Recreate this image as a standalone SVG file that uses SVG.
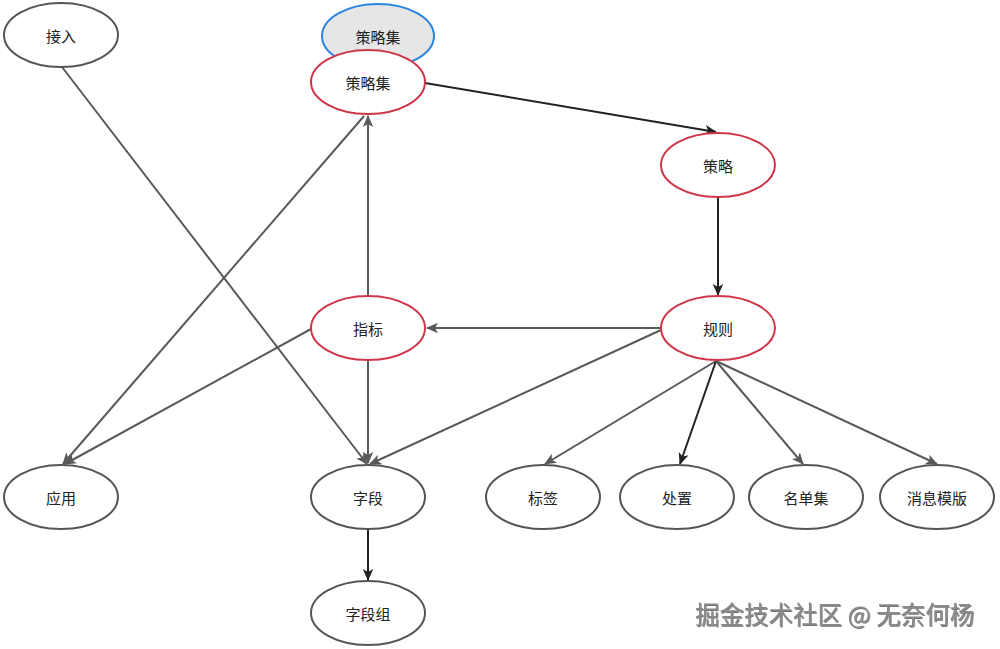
<svg xmlns="http://www.w3.org/2000/svg" width="1000" height="649" viewBox="0 0 1000 649">
<style>
.n ellipse{fill:#fff;stroke:#555;stroke-width:2}
.r ellipse{stroke:#d0364a}
.t{font-family:"Noto Sans CJK SC","Noto Sans",sans-serif;font-size:15px;fill:#222;text-anchor:middle;dominant-baseline:central}
.e{fill:none;stroke:#595959;stroke-width:2;marker-end:url(#ag)}
.d{stroke:#222;marker-end:url(#ad)}
.wm{font-family:"Noto Sans CJK SC",sans-serif;font-size:24.5px;fill:#8a8a8a;filter:url(#sh)}
</style>
<defs>
<filter id="sh" x="-5%" y="-30%" width="110%" height="160%">
<feDropShadow dx="0.8" dy="1" stdDeviation="0.6" flood-color="#333" flood-opacity="0.7"/>
</filter>
<marker id="ag" markerWidth="13" markerHeight="12" refX="11" refY="6" orient="auto" markerUnits="userSpaceOnUse" viewBox="0 0 13 12">
<path d="M0,0.8 L12,6 L0,11.2 L3,6 Z" fill="#595959"/>
</marker>
<marker id="ad" markerWidth="13" markerHeight="12" refX="11" refY="6" orient="auto" markerUnits="userSpaceOnUse" viewBox="0 0 13 12">
<path d="M0,0.8 L12,6 L0,11.2 L3,6 Z" fill="#222"/>
</marker>
</defs>
<rect width="1000" height="649" fill="#fff"/>
<g id="connectors">
<path class="e" d="M62,67 L367,464"/>
<path class="e d" d="M425,83 L716,132"/>
<path class="e d" d="M718,197 L718,295"/>
<path class="e" d="M368,296 L368,116"/>
<path class="e" d="M364,116 L63,464"/>
<path class="e" d="M311,329 L65,464"/>
<path class="e" d="M661,328 L427,328"/>
<path class="e" d="M661,330 L370,464"/>
<path class="e" d="M368,360 L368,463"/>
<path class="e d" d="M368,529 L368,580"/>
<path class="e" d="M716,361 L545,464"/>
<path class="e d" d="M716,361 L680,464"/>
<path class="e" d="M716,361 L803,464"/>
<path class="e" d="M716,361 L937,464"/>
</g>
<g id="n-jieru" class="n"><ellipse cx="61" cy="35" rx="57" ry="32"/><text class="t" x="61" y="35">接入</text></g>
<g id="n-celueji-sel" class="n"><ellipse cx="378" cy="36" rx="56" ry="32" style="fill:#e6e6e6;stroke:#2a85e0"/><text class="t" x="378" y="36">策略集</text></g>
<g id="n-celueji" class="n r"><ellipse cx="368" cy="82" rx="57" ry="32"/><text class="t" x="368" y="82">策略集</text></g>
<g id="n-celue" class="n r"><ellipse cx="718" cy="165" rx="57" ry="32"/><text class="t" x="718" y="165">策略</text></g>
<g id="n-guize" class="n r"><ellipse cx="718" cy="328" rx="57" ry="32"/><text class="t" x="718" y="328">规则</text></g>
<g id="n-zhibiao" class="n r"><ellipse cx="368" cy="328" rx="57" ry="32"/><text class="t" x="368" y="328">指标</text></g>
<g id="n-yingyong" class="n"><ellipse cx="61" cy="497" rx="57" ry="32"/><text class="t" x="61" y="497">应用</text></g>
<g id="n-ziduan" class="n"><ellipse cx="368" cy="497" rx="57" ry="32"/><text class="t" x="368" y="497">字段</text></g>
<g id="n-ziduanzu" class="n"><ellipse cx="368" cy="613" rx="57" ry="32"/><text class="t" x="368" y="613">字段组</text></g>
<g id="n-biaoqian" class="n"><ellipse cx="543" cy="497" rx="57" ry="32"/><text class="t" x="543" y="497">标签</text></g>
<g id="n-chuzhi" class="n"><ellipse cx="677" cy="497" rx="57" ry="32"/><text class="t" x="677" y="497">处置</text></g>
<g id="n-mingdanji" class="n"><ellipse cx="806" cy="497" rx="57" ry="32"/><text class="t" x="806" y="497">名单集</text></g>
<g id="n-xiaoxi" class="n"><ellipse cx="937" cy="497" rx="57" ry="32"/><text class="t" x="937" y="497">消息模版</text></g>
<text class="wm" x="695" y="624">掘金技术社区 @ 无奈何杨</text>
</svg>
